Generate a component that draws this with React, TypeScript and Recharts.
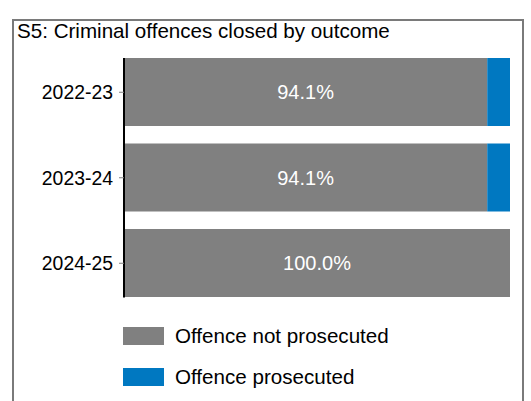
import { Bar, BarChart, LabelList, XAxis, YAxis } from 'recharts'

const years = ['2022-23', '2023-24', '2024-25']
const notProsecuted = [94.1, 94.1, 100.0]
const prosecuted = [5.9, 5.9, 0]

const seriesNames = ['Offence not prosecuted', 'Offence prosecuted']
const seriesColors = ['#808080', '#0078c1']

const rows = years.map((year, i) => ({ year, notProsecuted: notProsecuted[i], prosecuted: prosecuted[i] }))

const font = '"Liberation Sans", Arial, sans-serif'

export default function App() {
  return (
    <div style={{ position: 'absolute', left: 0, top: 0, width: 531, height: 401, background: '#fff', overflow: 'hidden', fontFamily: font }}>
      <div style={{ position: 'absolute', left: 12, top: 19, width: 512, height: 420, boxSizing: 'border-box', border: '2px solid #7a7a7a' }} />
      <div style={{ position: 'absolute', left: 17, top: 19, fontSize: 20.6, lineHeight: '23px', color: '#000', whiteSpace: 'nowrap' }}>
        S5: Criminal offences closed by outcome
      </div>
      <div style={{ position: 'absolute', left: 0, top: 0 }}>
        <BarChart width={531} height={401} data={rows} layout="vertical" barCategoryGap="10%" margin={{ top: 49.5, right: 21, bottom: 95, left: 0 }}>
          <XAxis type="number" domain={[0, 100]} hide />
          <YAxis
            type="category"
            dataKey="year"
            width={124}
            tickSize={5}
            tickMargin={6}
            tick={{ fill: '#000', fontSize: 19.4, fontFamily: font }}
            tickLine={{ stroke: '#808080' }}
            axisLine={{ stroke: '#000', strokeWidth: 2, strokeDasharray: '0 8.5 239.5 100' }}
          />
          <Bar dataKey="notProsecuted" stackId="a" fill={seriesColors[0]} isAnimationActive={false}>
            <LabelList dataKey="notProsecuted" position="center" fill="#fff" fontSize={20} fontFamily={font} formatter={(v: any) => Number(v).toFixed(1) + '%'} />
          </Bar>
          <Bar dataKey="prosecuted" stackId="a" fill={seriesColors[1]} isAnimationActive={false} />
        </BarChart>
      </div>
      {seriesNames.map((name, i) => (
        <div key={name} style={{ position: 'absolute', left: 123, top: 327 + i * 41, height: 18, display: 'flex', alignItems: 'center', whiteSpace: 'nowrap' }}>
          <div style={{ width: 41, height: 18, background: seriesColors[i] }} />
          <span style={{ marginLeft: 11, fontSize: 20.6, color: '#000' }}>{name}</span>
        </div>
      ))}
    </div>
  )
}
